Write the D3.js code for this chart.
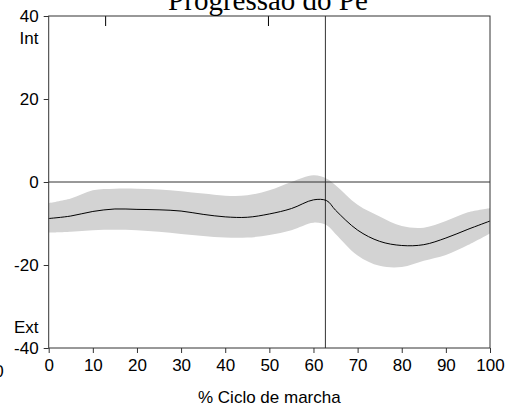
<!DOCTYPE html>
<html>
<head>
<meta charset="utf-8">
<script src="https://cdn.jsdelivr.net/npm/d3@7"></script>
<style>
  html, body { margin: 0; padding: 0; background: #fff; overflow: hidden; }
  svg { display: block; }
  .tick text { font-family: "Liberation Sans", Arial, sans-serif; font-size: 17px; fill: #000; }
</style>
</head>
<body>
<div id="chart"></div>
<script>
// % do ciclo de marcha
const cycle = [0, 5, 10, 15, 20, 25, 30, 35, 40, 45, 50, 55, 60, 63, 65, 70, 75, 80, 85, 90, 95, 100];
// media e faixa (+/- 1 dp), graus
const meanValues = [-8.8, -8.2, -7.1, -6.5, -6.6, -6.7, -7.0, -7.8, -8.4, -8.5, -7.7, -6.4, -4.3, -4.5, -6.8, -11.6, -14.3, -15.3, -15.1, -13.5, -11.4, -9.4];
const upperValues = [-5.1, -4.0, -2.0, -1.6, -1.6, -1.8, -2.2, -2.8, -3.3, -3.2, -2.0, 0.0, 1.6, 0.8, -0.8, -5.5, -8.3, -10.6, -11.0, -9.4, -7.3, -6.3];
const lowerValues = [-12.2, -12.0, -11.6, -11.5, -11.6, -12.0, -12.5, -13.0, -13.4, -13.4, -12.8, -11.6, -9.8, -10.4, -12.5, -17.7, -20.2, -20.5, -19.0, -17.6, -15.2, -12.4];

const xTicks = [0, 10, 20, 30, 40, 50, 60, 70, 80, 90, 100];
const yTicks = [-40, -20, 0, 20, 40];
const toeOffEvent = 62.7;          // linha vertical
const topEvents = [12.9, 49.8];    // marcas no topo

const width = 521, height = 408;
const margin = { top: 16, right: 31, bottom: 60, left: 48.7 };

const svg = d3.select('#chart')
  .append('svg')
  .attr('width', width)
  .attr('height', height);

const x = d3.scaleLinear()
  .domain([0, 100])
  .range([margin.left, width - margin.right]);

const y = d3.scaleLinear()
  .domain([-40, 40])
  .range([height - margin.bottom, margin.top]);

const data = cycle.map((c, i) => ({ c, m: meanValues[i], hi: upperValues[i], lo: lowerValues[i] }));

// faixa cinza
svg.append('path')
  .datum(data)
  .attr('fill', '#d3d3d3')
  .attr('d', d3.area()
    .curve(d3.curveCatmullRom)
    .x(d => x(d.c))
    .y0(d => y(d.lo))
    .y1(d => y(d.hi)));

// linha zero
svg.append('line')
  .attr('x1', x(0)).attr('x2', x(100))
  .attr('y1', y(0)).attr('y2', y(0))
  .attr('stroke', '#333').attr('stroke-width', 1);

// linha vertical do evento
svg.append('line')
  .attr('x1', x(toeOffEvent)).attr('x2', x(toeOffEvent))
  .attr('y1', y(40)).attr('y2', y(-40))
  .attr('stroke', '#333').attr('stroke-width', 1);

// marcas no topo
svg.append('g')
  .selectAll('line')
  .data(topEvents)
  .join('line')
  .attr('x1', d => x(d)).attr('x2', d => x(d))
  .attr('y1', y(40)).attr('y2', y(40) + 10)
  .attr('stroke', '#000').attr('stroke-width', 1);

// media
svg.append('path')
  .datum(data)
  .attr('fill', 'none')
  .attr('stroke', '#000')
  .attr('stroke-width', 1)
  .attr('d', d3.line()
    .curve(d3.curveCatmullRom)
    .x(d => x(d.c))
    .y(d => y(d.m)));

// moldura
svg.append('rect')
  .attr('x', x(0)).attr('y', y(40))
  .attr('width', x(100) - x(0))
  .attr('height', y(-40) - y(40))
  .attr('fill', 'none')
  .attr('stroke', '#333')
  .attr('stroke-width', 1);

// eixo X
const gx = svg.append('g')
  .attr('transform', `translate(0, ${y(-40)})`)
  .call(d3.axisBottom(x).tickValues(xTicks).tickFormat(d => String(d)).tickSize(5).tickPadding(6).tickSizeOuter(0));
gx.select('.domain').remove();
gx.selectAll('.tick line').attr('stroke', '#333');

// eixo Y (hifen normal como no original)
const gy = svg.append('g')
  .attr('transform', `translate(${x(0)}, 0)`)
  .call(d3.axisLeft(y).tickValues(yTicks).tickFormat(d => String(d)).tickSize(5).tickPadding(5).tickSizeOuter(0));
gy.select('.domain').remove();
gy.selectAll('.tick line').attr('stroke', '#333');

// rotulos Int / Ext
svg.append('text')
  .attr('x', 38.5).attr('y', 44)
  .attr('text-anchor', 'end')
  .style('font', '17px "Liberation Sans", Arial, sans-serif')
  .text('Int');
svg.append('text')
  .attr('x', 38.5).attr('y', 333)
  .attr('text-anchor', 'end')
  .style('font', '17px "Liberation Sans", Arial, sans-serif')
  .text('Ext');

// "0" cortado na borda esquerda
svg.append('text')
  .attr('x', -1).attr('y', 377)
  .attr('text-anchor', 'middle')
  .style('font', '17px "Liberation Sans", Arial, sans-serif')
  .text('0');

// titulo do eixo X
svg.append('text')
  .attr('x', (x(0) + x(100)) / 2).attr('y', 403)
  .attr('text-anchor', 'middle')
  .style('font', '17px "Liberation Sans", Arial, sans-serif')
  .text('% Ciclo de marcha');

// titulo
svg.append('text')
  .attr('x', 268).attr('y', 9.5)
  .attr('text-anchor', 'middle')
  .style('font', '29px "Liberation Serif", "Times New Roman", serif')
  .text('Progressão do Pé');
</script>
</body>
</html>
